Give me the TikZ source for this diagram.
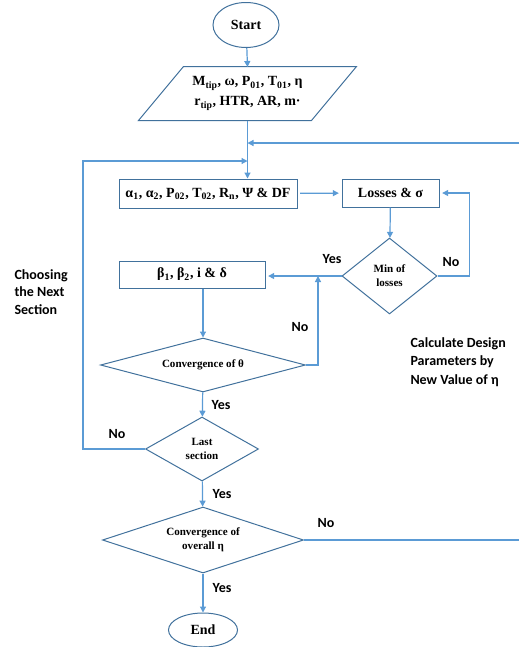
\documentclass[tikz,border=0pt]{standalone}
\usepackage{fontspec}
\setmainfont{Liberation Serif}
\newfontfamily\lblfont{Carlito}[BoldFont={Carlito Bold}]
\usetikzlibrary{shapes.geometric,arrows.meta}
\definecolor{lineblue}{RGB}{91,155,213}
\definecolor{edgeblue}{RGB}{65,113,156}
\tikzset{every picture/.style={line width=0.75pt}}
\tikzset{
  procbox/.style={draw=edgeblue, rectangle, inner sep=0pt, font=\bfseries\fontsize{10.5}{12}\selectfont},
  decision/.style={draw=edgeblue, diamond, inner sep=0pt, align=center, font=\bfseries\fontsize{8.3}{10.5}\selectfont},
  terminal/.style={draw=edgeblue, ellipse, inner sep=0pt, font=\bfseries\fontsize{10.5}{12}\selectfont},
  flow/.style={draw=lineblue, line width=0.9pt, -{Triangle[length=4.5pt,width=4.5pt]}},
  link/.style={draw=lineblue, line width=0.9pt},
  lbl/.style={font=\lblfont\bfseries\fontsize{10.5}{13}\selectfont, inner sep=0.75pt, align=left},
}

\begin{document}
\begin{tikzpicture}[x=0.75pt,y=0.75pt,yscale=-1,xscale=1]
\useasboundingbox (0,0) rectangle (519,647);

%Terminal: Start
\node [terminal, minimum width=49.5pt, minimum height=33.75pt] (start) at (246,25) {Start};
%Input data (parallelogram drawn round the node)
\node [minimum width=129pt, minimum height=39.75pt, inner sep=0pt, align=center,
  font=\bfseries\fontsize{10.5}{15}\selectfont] (inp) at (247.5,93.5)
  {M\textsubscript{tip}, ω, P\textsubscript{01}, T\textsubscript{01}, η\\ r\textsubscript{tip}, HTR, AR, m·};
\draw [draw=edgeblue] ([xshift=-16.875pt]inp.south west) -- ([xshift=16.875pt]inp.north west)
  -- ([xshift=16.875pt]inp.north east) -- ([xshift=-16.875pt]inp.south east) -- cycle;
%Process boxes
\node [procbox, minimum width=133.5pt, minimum height=21.75pt] (alphas) at (208,193.5)
  {α\textsubscript{1}, α\textsubscript{2}, P\textsubscript{02}, T\textsubscript{02}, R\textsubscript{n}, Ψ \& DF};
\node [procbox, minimum width=72.75pt, minimum height=21pt] (losses) at (390.5,193) {Losses \& σ};
\node [procbox, minimum width=109.5pt, minimum height=20.25pt] (beta) at (192,274.5)
  {β\textsubscript{1}, β\textsubscript{2}, i \& δ};
%Decisions
\node [decision, aspect=1.25, minimum width=71.25pt, minimum height=57pt] (minl) at (389.5,276) {Min of\\losses};
\node [decision, aspect=3.8, minimum width=153.75pt, minimum height=40.5pt] (convt) at (203,365) {Convergence of θ};
\node [decision, aspect=1.77, minimum width=84.75pt, minimum height=48pt] (last) at (202,449) {Last\\section};
\node [decision, aspect=3.05, minimum width=150.75pt, minimum height=49.5pt] (conve) at (203,540) {Convergence of\\overall η};
%Terminal: End
\node [terminal, minimum width=51.75pt, minimum height=25.5pt] (finish) at (203,630) {End};

%Free ends
\coordinate (feedR) at (519,143);
\coordinate (loopL) at (83,161);

%Connectors
\draw [flow] (start) -- (inp.north |- 0,67);
\draw [flow] (inp.south) -- (inp.south |- alphas.north);
\draw [flow] (feedR) -- (feedR -| inp.south);
\draw [flow] (last.west) -| (loopL) -- (loopL -| inp.south);
\draw [flow, shorten <=2pt, shorten >=2pt] (alphas) -- (losses);
\draw [flow] (losses) -- (minl);
\draw [flow, shorten >=2pt] (minl.east) -- ++(32,0) |- (losses.east);
\draw [flow, shorten >=2pt] (minl.west) -- (minl.west -| beta.east);
\draw [flow] (convt.north |- beta.south) -- (convt.north);
\draw [flow] (convt.east) -- ++(12,0) coordinate (convtNo) -- (convtNo |- minl.west);
\draw [flow] (convt) -- (last);
\draw [flow] (last) -- (conve);
\draw [flow] (conve) -- (finish);
\draw [link] (conve.east) -- (conve.east -| feedR);

%Labels
\node [lbl] (yesMin) at (332,259) {Yes};
\node [lbl] (noMin) at (451,262) {No};
\node [lbl] (noConvt) at (300,327) {No};
\node [lbl] (yesConvt) at (221,405) {Yes};
\node [lbl] (noLast) at (117,434) {No};
\node [lbl] (yesLast) at (222,494) {Yes};
\node [lbl] (noConve) at (326,523) {No};
\node [lbl] (yesConve) at (222,588) {Yes};
\node [lbl, anchor=west] (nextSec) at (13,292) {Choosing\\the Next\\Section};
\node [lbl, anchor=west, font=\lblfont\bfseries\fontsize{10.5}{14}\selectfont] (newEta) at (409,362)
  {Calculate Design\\Parameters by\\New Value of η};

\end{tikzpicture}
\end{document}
